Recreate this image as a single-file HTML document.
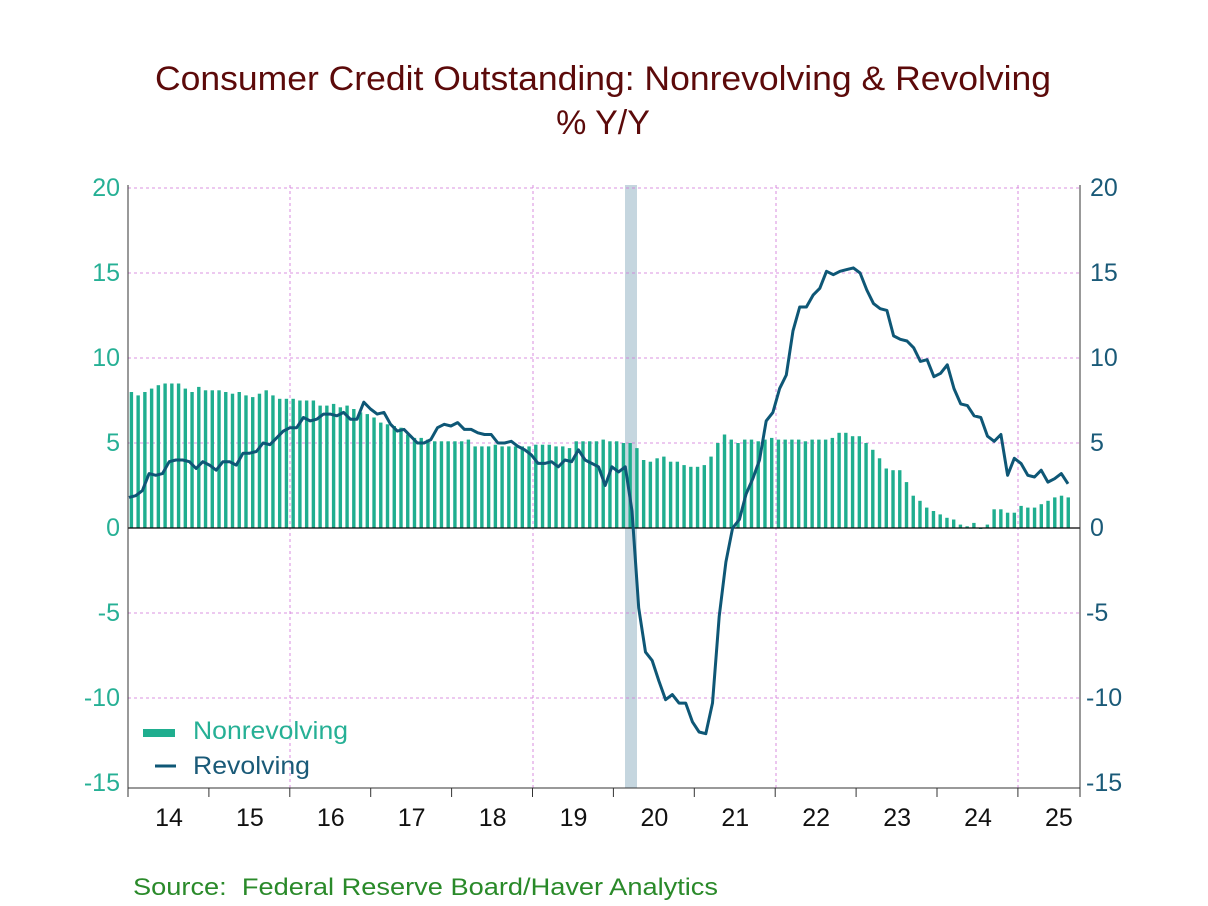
<!DOCTYPE html>
<html><head><meta charset="utf-8"><style>
body{margin:0;background:#fff;}
svg{display:block;font-family:"Liberation Sans",Arial,sans-serif;}
</style></head><body>
<svg id="c" width="1208" height="906" viewBox="0 0 1208 906" xmlns="http://www.w3.org/2000/svg">
<text x="155" y="90" textLength="896" lengthAdjust="spacingAndGlyphs" font-size="34" fill="#5c0a0a">Consumer Credit Outstanding: Nonrevolving &amp; Revolving</text>
<text x="603" y="134" text-anchor="middle" font-size="34" fill="#5c0a0a">% Y/Y</text>
<g id="g"></g>
<text x="133" y="895" textLength="585" lengthAdjust="spacingAndGlyphs" font-size="24" fill="#2a8a2a" xml:space="preserve">Source:  Federal Reserve Board/Haver Analytics</text>
</svg>
<script>
var X0=128,X1=1080,M=6.74;
function Y(v){return 528-v*17;}
var nr=[8.0,7.8,8.0,8.2,8.4,8.5,8.5,8.5,8.2,8.0,8.3,8.1,
8.1,8.1,8.0,7.9,8.0,7.8,7.7,7.9,8.1,7.8,7.6,7.6,
7.6,7.5,7.5,7.5,7.2,7.2,7.3,7.1,7.2,7.0,6.8,6.7,
6.5,6.2,6.1,6.0,5.9,5.5,5.3,5.3,5.2,5.1,5.1,5.1,
5.1,5.1,5.2,4.8,4.8,4.8,4.9,4.8,4.8,4.8,4.8,4.8,
4.9,4.9,4.9,4.8,4.8,4.7,5.1,5.1,5.1,5.1,5.2,5.1,
5.1,5.0,5.0,4.7,4.0,3.9,4.1,4.2,3.9,3.9,3.7,3.6,
3.6,3.7,4.2,5.0,5.5,5.2,5.0,5.2,5.2,5.1,5.2,5.3,
5.2,5.2,5.2,5.2,5.1,5.2,5.2,5.2,5.3,5.6,5.6,5.4,
5.4,5.0,4.6,4.1,3.5,3.4,3.4,2.7,1.9,1.6,1.2,1.0,
0.8,0.6,0.5,0.2,0.1,0.3,-0.05,0.2,1.1,1.1,0.9,0.9,
1.3,1.2,1.2,1.4,1.6,1.8,1.9,1.8];
var rv=[1.8,1.9,2.2,3.2,3.1,3.2,3.9,4.0,4.0,3.9,3.5,3.9,
3.7,3.4,3.9,3.9,3.7,4.4,4.4,4.5,5.0,4.9,5.3,5.7,
5.9,5.9,6.5,6.3,6.4,6.7,6.7,6.6,6.8,6.4,6.4,7.4,
7.0,6.7,6.8,6.1,5.7,5.8,5.4,5.0,5.0,5.2,5.9,6.1,
6.0,6.2,5.8,5.8,5.6,5.5,5.5,5.0,5.0,5.1,4.8,4.6,
4.3,3.8,3.8,3.9,3.6,4.0,3.9,4.6,4.0,3.8,3.6,2.5,
3.6,3.3,3.6,1.0,-4.7,-7.3,-7.8,-9.0,-10.1,-9.8,-10.3,-10.3,
-11.4,-12.0,-12.1,-10.3,-5.2,-2.0,0.0,0.5,2.0,2.9,4.0,6.3,
6.8,8.2,9.0,11.6,13.0,13.0,13.7,14.1,15.1,14.9,15.1,15.2,
15.3,15.0,14.0,13.2,12.9,12.8,11.3,11.1,11.0,10.6,9.8,9.9,
8.9,9.1,9.6,8.2,7.3,7.2,6.6,6.5,5.4,5.1,5.5,3.1,
4.1,3.8,3.1,3.0,3.4,2.7,2.9,3.2,2.6];
var s='';
s+='<rect x="625" y="185" width="12" height="603" fill="#c5d6df"/>';
for(var v=-10;v<=20;v+=5){if(v==0)continue;s+='<line x1="'+X0+'" x2="'+X1+'" y1="'+Y(v)+'" y2="'+Y(v)+'" stroke="#d070d8" stroke-width="0.8" stroke-dasharray="3,3"/>';}
[290,533,776,1018].forEach(function(x){s+='<line x1="'+x+'" x2="'+x+'" y1="185" y2="788" stroke="#d070d8" stroke-width="0.8" stroke-dasharray="3,3"/>';});
for(var i=0;i<nr.length;i++){var cx=X0+3.4+i*M;var v=nr[i];var y=Math.min(Y(v),528),h=Math.abs(v*17);if(h<1)h=1;s+='<rect x="'+(cx-1.7).toFixed(2)+'" y="'+y.toFixed(1)+'" width="3.4" height="'+h.toFixed(1)+'" fill="#1fae8f"/>';}
s+='<line x1="'+X0+'" x2="'+X1+'" y1="528" y2="528" stroke="#000" stroke-width="1.3"/>';
var p='';for(var i=0;i<rv.length;i++){var x=X0+1+i*(1068-X0-1)/(rv.length-1);p+=(i?'L':'M')+x.toFixed(1)+','+Y(rv[i]).toFixed(1);}
s+='<path d="'+p+'" fill="none" stroke="#0e5776" stroke-width="3" stroke-linejoin="round"/>';
s+='<line x1="'+X0+'" x2="'+X0+'" y1="185" y2="797" stroke="#333" stroke-width="1"/>';
s+='<line x1="'+X1+'" x2="'+X1+'" y1="185" y2="797" stroke="#333" stroke-width="1"/>';
s+='<line x1="'+X0+'" x2="'+X1+'" y1="788" y2="788" stroke="#333" stroke-width="1"/>';
for(var k=0;k<=11;k++){var x=X0+k*80.9;s+='<line x1="'+x+'" x2="'+x+'" y1="788" y2="797" stroke="#333"/>';s+='<text x="'+(x+41)+'" y="826" text-anchor="middle" font-size="25" fill="#111">'+(14+k)+'</text>';}
for(var v=-15;v<=20;v+=5){var y=Y(v);
s+='<text x="120" y="'+(y+8)+'" text-anchor="end" font-size="25" fill="#26b095">'+v+'</text>';
s+='<text x="'+(v<0?1086:1090)+'" y="'+(y+8)+'" font-size="25" fill="#1a5a78">'+v+'</text>';}
s+='<rect x="143" y="729" width="32" height="8" fill="#1fae8f"/><text x="193" y="739" textLength="155" lengthAdjust="spacingAndGlyphs" font-size="25" fill="#26b095">Nonrevolving</text>';
s+='<line x1="155" x2="176" y1="766" y2="766" stroke="#0e5776" stroke-width="3"/><text x="193" y="774" textLength="117" lengthAdjust="spacingAndGlyphs" font-size="25" fill="#1a5a78">Revolving</text>';
document.getElementById('g').innerHTML=s;
</script>
</body></html>
